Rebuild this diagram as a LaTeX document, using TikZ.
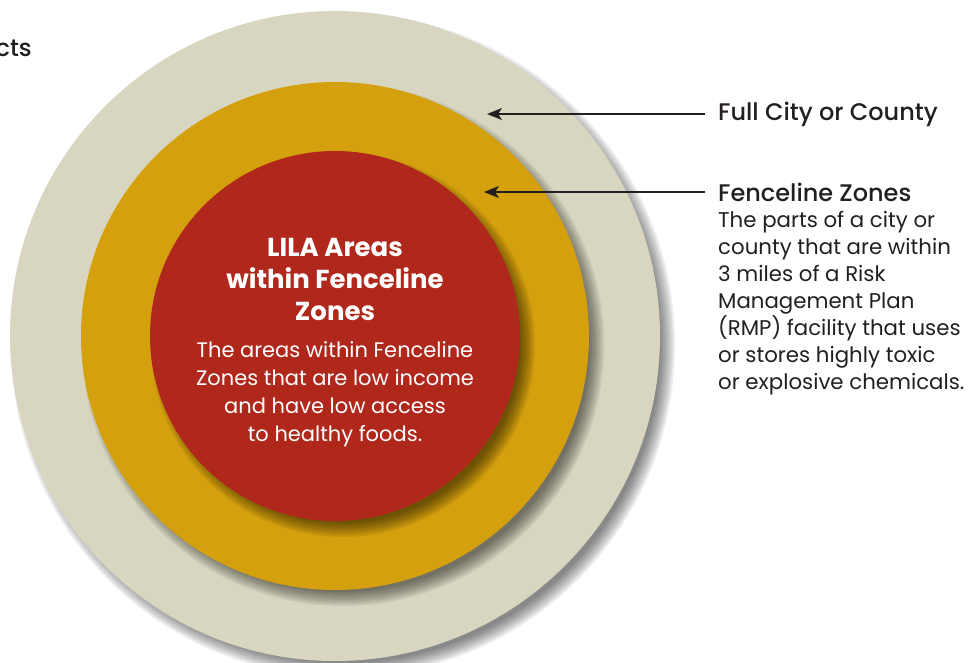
\documentclass[tikz,border=0pt]{standalone}
\usepackage{fontspec}
\setmainfont{Poppins}
\newfontfamily\medfont{Poppins Medium}
\usetikzlibrary{positioning,arrows.meta}

\definecolor{ringbeige}{HTML}{D8D6C1}
\definecolor{ringgold}{HTML}{D4A00E}
\definecolor{ringred}{HTML}{B0281C}
\definecolor{inkdark}{HTML}{231F20}

\begin{document}
\begin{tikzpicture}[x=1pt,y=-1pt,
  headtext/.style={text=inkdark, font=\fontsize{24}{28}\selectfont\medfont, inner sep=0pt},
  bodytext/.style={text=inkdark, font=\fontsize{21.3}{27}\selectfont, inner sep=0pt, align=left},
  pointer/.style={draw=inkdark, line width=1.5pt, -{Stealth[length=15pt,width=12pt,inset=4pt]}}
]
  \useasboundingbox (0,0) rectangle (973,662);

  % --- centre of the rings ---
  \def\cx{335}
  \def\cy{336}

  % --- rings, each with a soft shadow to the lower right ---
  \foreach \r/\col in {325/ringbeige, 254/ringgold, 185/ringred} {
    \foreach \k in {1,...,8} {
      \fill[black, opacity=0.075] (\cx+8,\cy+9) circle (\r+9-2*\k);
    }
    \fill[\col] (\cx,\cy) circle (\r);
  }

  % --- text inside the red circle ---
  \node[text=white, font=\fontsize{26}{32}\selectfont\bfseries, align=center, inner sep=0pt, anchor=north]
    (lilatitle) at (\cx,238) {LILA Areas\\within Fenceline\\Zones};
  \node[text=white, font=\fontsize{21}{28}\selectfont, align=center, inner sep=0pt, below=20pt of lilatitle]
    (liladesc) {The areas within Fenceline\\Zones that are low income\\and have low access\\to healthy foods.};

  % --- labels on the right ---
  \node[headtext, anchor=west] (fullcity) at (718,114) {Full City or County};
  \node[headtext, anchor=west] (fencetitle) at (718,192) {Fenceline Zones};
  \node[bodytext, below right=9pt and 0pt of fencetitle.south west]
    (fencedesc) {The parts of a city or\\county that are within\\3 miles of a Risk\\Management Plan\\(RMP) facility that uses\\or stores highly toxic\\or explosive chemicals.};

  % cut-off label at the left edge
  \node[headtext, anchor=east] (leftcut) at (32,48) {cts};

  % --- pointers onto the rings ---
  \coordinate (beigetip) at (487,114);
  \coordinate (goldtip) at (484,192);
  \draw[pointer] ([xshift=-13pt]fullcity.west) -- (beigetip);
  \draw[pointer] ([xshift=-13pt]fencetitle.west) -- (goldtip);
\end{tikzpicture}
\end{document}
